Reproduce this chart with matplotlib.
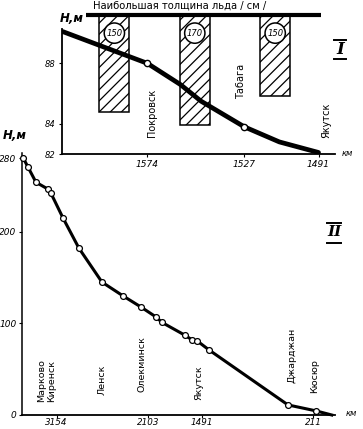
import matplotlib
matplotlib.use("Agg")
import matplotlib.pyplot as plt
from matplotlib.lines import Line2D

plt.rcParams['font.family'] = ['DejaVu Sans']
plt.rcParams['hatch.linewidth'] = 0.9

# ---------------- data: panel I (Pokrovsk - Yakutsk) ----------------
top_km = [1615, 1574, 1558, 1548, 1527, 1510, 1491]
top_H = [90.1, 88.0, 86.6, 85.5, 83.8, 82.8, 82.1]
top_marker_idx = [1, 4]
top_xticks = [1574, 1527, 1491]
top_yticks = [82, 84, 88]
top_stations = ['Покровск', 'Табага', 'Якутск']
top_station_km = [1571.7, 1528.6, 1487.4]
top_station_H = [84.7, 86.8, 84.25]

ice_km = [1590, 1551, 1512]
ice_depth_drawn = [150, 170, 125]
ice_labels = ['150', '170', '150']
ice_title = 'Наибольшая толщина льда / см /'

# ---------------- data: panel II (whole river) ----------------
low_km = [3540, 3482, 3391, 3253, 3219, 3081, 2898, 2634, 2393, 2190, 2015,
          1946, 1682, 1602, 1545, 1407, 502, 181, 0]
low_H = [281, 270.5, 254, 246.5, 242, 215, 182, 145, 130, 118, 107,
         101, 87, 82, 81, 71, 11, 4.5, 0]
low_xticks = [3154, 2103, 1491, 211]
low_yticks = [0, 100, 200, 280]
low_stations = ['Марково', 'Киренск', 'Ленск', 'Олекминск', 'Якутск', 'Джарджан', 'Кюсюр']
low_station_km = [3322, 3207, 2630, 2171, 1529, 452, 200]
low_station_H = [14, 14, 22, 25, 16, 35, 24]

W, Hpx = 363, 429
fig = plt.figure(figsize=(W / 100, Hpx / 100), dpi=100)
fig.patch.set_facecolor('white')

def fx(px):
    return px / W

def fy(py):
    return 1 - py / Hpx

# ---------------- panel I ----------------
ax = fig.add_axes([fx(62), fy(154), fx(273), 139 / Hpx])
ax.set_facecolor('none')
ax.set_xlim(1615.4, 1483.0)
ax.set_ylim(82, 91.2)
for s in ['top', 'right']:
    ax.spines[s].set_visible(False)
ax.spines['left'].set_bounds(82, 90.3)
ax.spines['left'].set_linewidth(1.3)
ax.spines['bottom'].set_linewidth(1.3)
ax.set_xticks(top_xticks)
ax.set_xticklabels([str(v) for v in top_xticks], fontsize=6.5, style='italic')
ax.set_yticks(top_yticks)
ax.set_yticklabels([str(v) for v in top_yticks], fontsize=6, style='italic')
ax.tick_params(length=2.5, width=0.8, pad=2)

ax_ice = ax.twinx()
ax_ice.set_ylim(214.8, 0)
ax_ice.axis('off')
ax_ice.bar(ice_km, ice_depth_drawn, width=14.5, bottom=0, color='white',
           edgecolor='black', hatch='///', linewidth=1.1, zorder=1)
ax_ice.hlines(0, 1604, 1490, colors='black', linewidth=3, clip_on=False, zorder=3)
for k, lab in zip(ice_km, ice_labels):
    ax_ice.text(k, 28, lab, ha='center', va='center', fontsize=6, style='italic',
                bbox=dict(boxstyle='circle,pad=0.25', fc='white', ec='black', lw=1.1),
                zorder=4)

ax.set_zorder(ax_ice.get_zorder() + 1)
ax.plot(top_km, top_H, color='black', lw=3.4, solid_capstyle='round',
        marker='o', markevery=top_marker_idx, markersize=4.5,
        markerfacecolor='white', markeredgecolor='black', markeredgewidth=1, zorder=5)
for name, k, h in zip(top_stations, top_station_km, top_station_H):
    ax.text(k, h, name, rotation=90, ha='center', va='center', fontsize=7)

fig.text(fx(180), fy(6), ice_title, ha='center', va='center', fontsize=7.2)
fig.text(fx(72), fy(19), 'Н,м', ha='center', va='center', fontsize=8.5,
         style='italic', fontweight='bold')
fig.text(fx(347), fy(154), 'км', ha='center', va='center', fontsize=6, style='italic')

# ---------------- panel II ----------------
bx = fig.add_axes([fx(22), fy(415), fx(313), 265 / Hpx])
bx.set_facecolor('none')
bx.set_xlim(3551, -37)
bx.set_ylim(0, 289.2)
for s in ['top', 'right']:
    bx.spines[s].set_visible(False)
bx.spines['left'].set_bounds(0, 286)
bx.spines['left'].set_linewidth(1.1)
bx.spines['bottom'].set_linewidth(1.3)
bx.set_xticks(low_xticks)
bx.set_xticklabels([str(v) for v in low_xticks], fontsize=6.3, style='italic')
bx.set_yticks(low_yticks)
bx.set_yticklabels([str(v) for v in low_yticks], fontsize=6.5, style='italic')
bx.tick_params(axis='y', length=2.5, width=0.8, pad=1.5)
bx.tick_params(axis='x', length=2, width=0.8, pad=0.5)
bx.plot(low_km, low_H, color='black', lw=2.2, marker='o',
        markevery=list(range(len(low_km) - 1)), markersize=4.2,
        markerfacecolor='white', markeredgecolor='black', markeredgewidth=0.9,
        clip_on=False, zorder=5)
for name, k, h in zip(low_stations, low_station_km, low_station_H):
    bx.text(k, h, name, rotation=90, ha='center', va='bottom', fontsize=6.8)

fig.text(fx(15), fy(136), 'Н,м', ha='center', va='center', fontsize=8.5,
         style='italic', fontweight='bold')
fig.text(fx(351), fy(414), 'км', ha='center', va='center', fontsize=6, style='italic')

# ---------------- roman numerals ----------------
fig.text(fx(340), fy(49), 'I', ha='center', va='center', fontsize=12,
         style='italic', fontweight='bold', family='DejaVu Serif')
fig.text(fx(334), fy(232), 'II', ha='center', va='center', fontsize=11,
         style='italic', fontweight='bold', family='DejaVu Serif')
for (x0, x1, y) in [(334, 346, 40), (334, 346, 59), (327, 341, 223), (327, 341, 243)]:
    fig.add_artist(Line2D([fx(x0), fx(x1)], [fy(y), fy(y)], color='black', lw=1.4,
                          transform=fig.transFigure))

fig.savefig('out.png', dpi=100, facecolor='white')
